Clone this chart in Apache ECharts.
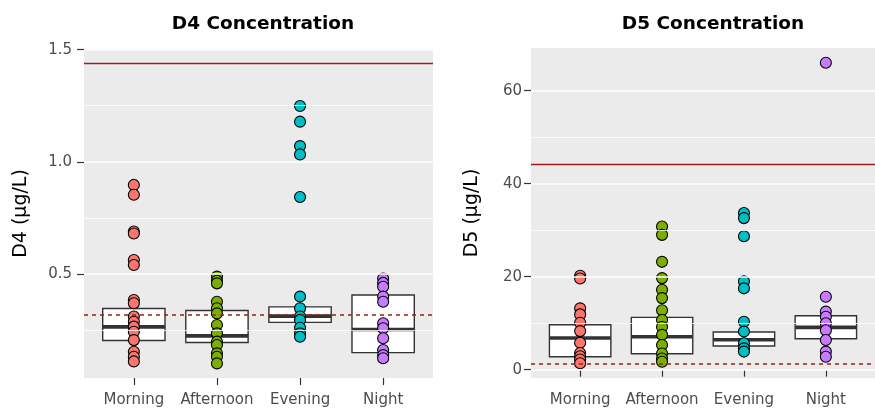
<!DOCTYPE html>
<html>
<head>
<meta charset="utf-8">
<title>D4 / D5 Concentration</title>
<script src="https://cdn.jsdelivr.net/npm/echarts@6/dist/echarts.min.js"></script>
<style>
	html, body { margin: 0; padding: 0; background: #fff; }
	#chart { width: 875px; height: 411px; }
</style>
</head>
<body>
<div id="chart"></div>
<script>
// 时段分类
const categories = ['Morning', 'Afternoon', 'Evening', 'Night'];
const colors = ['#F8766D', '#7CAE00', '#00BFC4', '#C77CFF'];

// D4 (µg/L) 各时段的点
const d4Morning = [0.897, 0.853, 0.689, 0.68, 0.562, 0.54, 0.384, 0.369, 0.31, 0.287, 0.265, 0.242, 0.205, 0.153, 0.131, 0.11];
const d4Afternoon = [0.488, 0.47, 0.458, 0.376, 0.347, 0.324, 0.272, 0.235, 0.198, 0.183, 0.146, 0.131, 0.101];
const d4Evening = [1.249, 1.179, 1.07, 1.033, 0.843, 0.399, 0.347, 0.31, 0.295, 0.26, 0.235, 0.22];
const d4Night = [0.48, 0.46, 0.443, 0.399, 0.376, 0.28, 0.258, 0.213, 0.161, 0.138, 0.124];
// D4 箱体: [下四分位, 中位数, 上四分位]
const d4Box = [[0.203, 0.264, 0.346], [0.194, 0.224, 0.337], [0.284, 0.312, 0.353], [0.149, 0.252, 0.406]];
const d4Limit = 1.44; // 红色实线
const d4Ref = 0.32; // 红色虚线

// D5 (µg/L) 各时段的点
const d5Morning = [20.2, 19.6, 13.2, 11.9, 10.1, 8.3, 5.8, 3.6, 2.9, 2.2, 1.4];
const d5Afternoon = [30.8, 29.0, 23.2, 19.7, 17.2, 15.4, 12.8, 10.7, 9.2, 7.5, 5.3, 3.5, 2.4, 1.7];
const d5Evening = [33.7, 32.6, 28.7, 19.0, 17.5, 10.3, 8.2, 5.7, 4.6, 3.9];
const d5Night = [66.0, 15.7, 12.5, 11.4, 10.0, 8.5, 6.4, 3.9, 2.8];
const d5Box = [[2.8, 6.81, 9.68], [3.44, 7.1, 11.25], [5.09, 6.45, 8.1], [6.67, 9.1, 11.61]];
const d5Limit = 44.2;
const d5Ref = 1.3;

// 刻度
const d4Ticks = [0.5, 1.0, 1.5];
const d4Minor = [0.25, 0.75, 1.25];
const d5Ticks = [0, 20, 40, 60];
const d5Minor = [10, 30, 50];
const xTicks = [1, 2, 3, 4];

const font = 'DejaVu Sans';
const chart = echarts.init(document.getElementById('chart'), null, { renderer: 'canvas' });

// 箱体 (crossbar) 绘制
function renderBox(params, api) {
	const x = api.value(0),
		low = api.coord([x, api.value(1)]),
		mid = api.coord([x, api.value(2)]),
		high = api.coord([x, api.value(3)]),
		w = api.size([0.75, 0])[0];
	return {
		type: 'group',
		children: [{
			type: 'rect',
			shape: { x: low[0] - w / 2, y: high[1], width: w, height: low[1] - high[1] },
			style: { fill: '#fff', stroke: '#333', lineWidth: 1.4 }
		}, {
			type: 'line',
			shape: { x1: mid[0] - w / 2, y1: mid[1], x2: mid[0] + w / 2, y2: mid[1] },
			style: { stroke: '#333', lineWidth: 3.6 }
		}]
	};
}

function xAxisOf(gridIndex) {
	return {
		type: 'value', gridIndex: gridIndex, min: 0.4, max: 4.6,
		axisLine: { show: false },
		splitLine: { show: false },
		axisTick: { show: true, customValues: xTicks, length: 7, lineStyle: { color: '#333', width: 1.2 } },
		axisLabel: {
			customValues: xTicks, margin: 15, color: '#4D4D4D', fontFamily: font, fontSize: 15,
			formatter: function(v) { return categories[Math.round(v) - 1]; }
		}
	};
}

function yAxisOf(gridIndex, min, max, ticks, name, gap, margin, digits) {
	return {
		type: 'value', gridIndex: gridIndex, min: min, max: max,
		name: name, nameLocation: 'middle', nameGap: gap,
		nameTextStyle: { color: '#000', fontFamily: font, fontSize: 19 },
		axisLine: { show: false },
		splitLine: { show: false },
		axisTick: { show: true, customValues: ticks, length: 7, lineStyle: { color: '#333', width: 1.2 } },
		axisLabel: {
			customValues: ticks, margin: margin, color: '#4D4D4D', fontFamily: font, fontSize: 15,
			formatter: function(v) { return v.toFixed(digits); }
		}
	};
}

// 网格线 (白色) 用空系列的 markLine 画
function gridLines(idx, major, minor) {
	const data = major.map(function(v) { return { yAxis: v, lineStyle: { width: 1.7 } }; })
		.concat(minor.map(function(v) { return { yAxis: v, lineStyle: { width: 0.8 } }; }));
	return {
		type: 'line', xAxisIndex: idx, yAxisIndex: idx, data: [], z: 1, silent: true,
		markLine: {
			symbol: 'none', silent: true, animation: false, label: { show: false },
			lineStyle: { color: '#fff', type: 'solid' },
			data: data
		}
	};
}

// 红色参考线: 实线 + 虚线
function refLines(idx, limit, ref) {
	return {
		type: 'line', xAxisIndex: idx, yAxisIndex: idx, data: [], z: 3, silent: true,
		markLine: {
			symbol: 'none', silent: true, animation: false, label: { show: false },
			data: [
				{ yAxis: limit, lineStyle: { color: '#9E1C1C', width: 1.4, type: 'solid' } },
				{ yAxis: ref, lineStyle: { color: '#9E1C1C', width: 1.5, type: [4, 4] } }
			]
		}
	};
}

function boxSeries(idx, box) {
	return {
		type: 'custom', xAxisIndex: idx, yAxisIndex: idx, z: 2, silent: true,
		renderItem: renderBox,
		data: box.map(function(b, i) { return [i + 1, b[0], b[1], b[2]]; })
	};
}

function pointSeries(idx, groups) {
	return groups.map(function(vals, i) {
		return {
			type: 'scatter', xAxisIndex: idx, yAxisIndex: idx, z: 4, silent: true,
			symbolSize: 11,
			itemStyle: { color: colors[i], borderColor: '#000', borderWidth: 1.1, opacity: 1 },
			data: vals.map(function(v) { return [i + 1, v]; })
		};
	});
}

const option = {
	animation: false,
	title: [{
		text: 'D4 Concentration', left: 258, top: 10, textAlign: 'center',
		textStyle: { fontFamily: font, fontWeight: 'bold', fontSize: 18.5, color: '#000' }
	}, {
		text: 'D5 Concentration', left: 708, top: 10, textAlign: 'center',
		textStyle: { fontFamily: font, fontWeight: 'bold', fontSize: 18.5, color: '#000' }
	}],
	grid: [
		{ left: 84, top: 49, width: 349, height: 329, show: true, backgroundColor: '#EBEBEB', borderWidth: 0 },
		{ left: 531, top: 48, width: 355, height: 330, show: true, backgroundColor: '#EBEBEB', borderWidth: 0 }
	],
	xAxis: [xAxisOf(0), xAxisOf(1)],
	yAxis: [
		yAxisOf(0, 0.036, 1.503, d4Ticks, 'D4 (µg/L)', 53, 12, 1),
		yAxisOf(1, -1.78, 69.18, d5Ticks, 'D5 (µg/L)', 49, 9, 0)
	],
	series: [
		gridLines(0, d4Ticks, d4Minor),
		gridLines(1, d5Ticks, d5Minor),
		boxSeries(0, d4Box),
		boxSeries(1, d5Box),
		refLines(0, d4Limit, d4Ref),
		refLines(1, d5Limit, d5Ref)
	].concat(pointSeries(0, [d4Morning, d4Afternoon, d4Evening, d4Night]))
	 .concat(pointSeries(1, [d5Morning, d5Afternoon, d5Evening, d5Night]))
};

chart.setOption(option);
</script>
</body>
</html>
